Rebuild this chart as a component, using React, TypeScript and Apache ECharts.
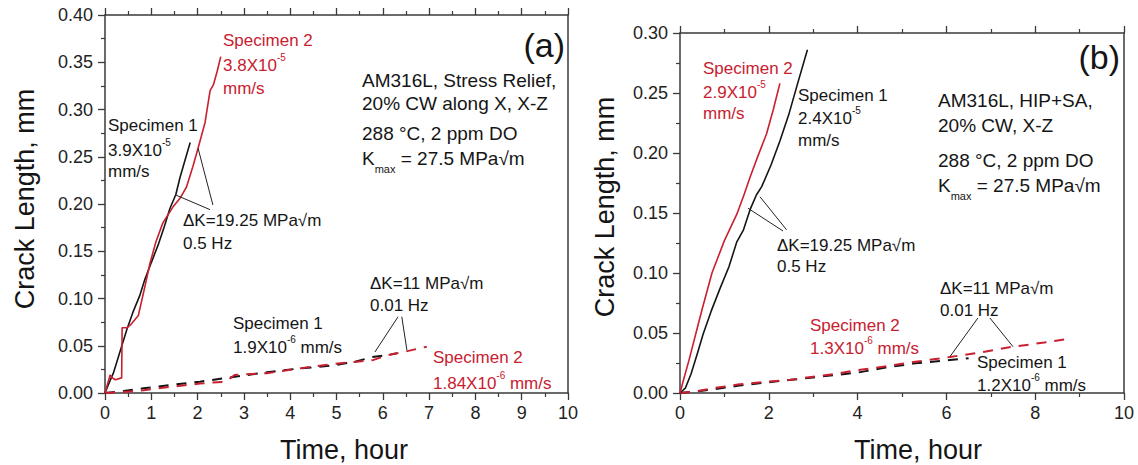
import React, { useEffect, useRef } from "react";
import * as echarts from "echarts";

const FONT = "'Liberation Sans', Arial, Helvetica, sans-serif";
const RED = "#c8202f";
const BLACK = "#151515";
const AXIS = "#3a3a3a";

// ---------- Panel (a): AM316L, Stress Relief ----------
const aXMax = 10;
const aXInterval = 1;
const aYMax = 0.4;
const aYInterval = 0.05;

// 0.5 Hz, Specimen 1 (solid black)
const aS1FastT = [0, 0.1, 0.18, 0.3, 0.47, 0.6, 0.75, 0.86, 1.0, 1.15, 1.28, 1.4, 1.53, 1.62, 1.72, 1.84];
const aS1FastY = [0, 0.012, 0.021, 0.04, 0.067, 0.085, 0.103, 0.12, 0.138, 0.157, 0.176, 0.195, 0.21, 0.228, 0.245, 0.265];
// 0.5 Hz, Specimen 2 (solid red)
const aS2FastT = [0, 0.11, 0.16, 0.22, 0.36, 0.37, 0.47, 0.55, 0.72, 0.85, 0.97, 1.1, 1.25, 1.47, 1.62, 1.76, 1.9, 2.01, 2.16, 2.27, 2.34, 2.42, 2.5];
const aS2FastY = [0, 0.019, 0.016, 0.014, 0.016, 0.069, 0.069, 0.072, 0.082, 0.11, 0.137, 0.16, 0.18, 0.197, 0.206, 0.218, 0.24, 0.259, 0.286, 0.32, 0.326, 0.34, 0.356];
// 0.01 Hz, Specimen 1 (dashed black)
const aS1SlowT = [0, 0.4, 0.83, 1.5, 2.05, 2.77, 3.5, 4.2, 4.9, 5.4, 5.76, 6.1, 6.3];
const aS1SlowY = [0, 0.002, 0.005, 0.009, 0.012, 0.017, 0.022, 0.026, 0.029, 0.033, 0.038, 0.04, 0.042];
// 0.01 Hz, Specimen 2 (dashed red)
const aS2SlowT = [0, 0.4, 0.83, 1.5, 2.05, 2.6, 2.8, 3.5, 4.2, 4.97, 5.43, 5.8, 6.1, 6.5, 6.95];
const aS2SlowY = [0, 0.001, 0.003, 0.007, 0.01, 0.012, 0.019, 0.021, 0.026, 0.031, 0.033, 0.035, 0.04, 0.044, 0.049];
// annotation arrows [fromT, fromY, toT, toY]
const aArrows = [
  [2.27, 0.194, 1.53, 0.2095],
  [2.33, 0.199, 2.01, 0.259],
  [6.33, 0.0807, 5.83, 0.0434],
  [6.41, 0.0807, 6.52, 0.0455],
];

// ---------- Panel (b): AM316L, HIP+SA ----------
const bXMax = 10;
const bXInterval = 2;
const bYMax = 0.3;
const bYInterval = 0.05;

const bS1FastT = [0, 0.12, 0.25, 0.4, 0.52, 0.7, 0.9, 1.1, 1.28, 1.43, 1.5, 1.58, 1.72, 1.84, 2.05, 2.25, 2.45, 2.65, 2.87];
const bS1FastY = [0, 0.004, 0.016, 0.034, 0.049, 0.068, 0.087, 0.105, 0.126, 0.136, 0.144, 0.153, 0.165, 0.172, 0.19, 0.21, 0.232, 0.258, 0.286];
const bS2FastT = [0, 0.08, 0.2, 0.36, 0.5, 0.72, 1.0, 1.28, 1.45, 1.58, 1.75, 1.95, 2.1, 2.25];
const bS2FastY = [0, 0.011, 0.027, 0.05, 0.07, 0.1, 0.127, 0.149, 0.166, 0.18, 0.197, 0.216, 0.236, 0.258];
const bS1SlowT = [0, 0.3, 0.75, 1.3, 2.0, 2.5, 3.0, 3.5, 4.0, 4.6, 5.3, 6.08, 6.5];
const bS1SlowY = [0, 0.001, 0.003, 0.006, 0.009, 0.011, 0.013, 0.015, 0.017, 0.021, 0.0247, 0.0275, 0.029];
const bS2SlowT = [0, 0.3, 0.75, 1.3, 1.95, 2.5, 3.0, 3.5, 3.98, 4.6, 5.3, 6.08, 6.8, 7.5, 8.2, 8.82];
const bS2SlowY = [0, 0.001, 0.004, 0.007, 0.0094, 0.011, 0.0136, 0.016, 0.019, 0.022, 0.026, 0.03, 0.034, 0.0386, 0.042, 0.0456];
const bArrows = [
  [2.4, 0.136, 1.8, 0.1636],
  [2.32, 0.135, 1.53, 0.154],
  [6.71, 0.0625, 6.08, 0.0303],
  [6.98, 0.0625, 7.5, 0.0386],
];

const axisTitleX = "Time, hour";
const axisTitleY = "Crack Length, mm";

const zip = (t: number[], y: number[]) => t.map((v, i) => [v, y[i]]);

const RICH = {
  s: { fontSize: 10, fontFamily: FONT, verticalAlign: "top" },
  b: { fontSize: 11, fontFamily: FONT, verticalAlign: "bottom" },
};

function txt(x: number, y: number, text: string, o: any = {}) {
  return {
    type: "text",
    x,
    y,
    silent: true,
    rotation: o.rotation || 0,
    style: {
      text,
      fill: o.color || BLACK,
      fontSize: o.size || 17,
      fontFamily: FONT,
      align: o.align || "left",
      verticalAlign: "middle",
      lineHeight: o.lh,
      rich: RICH,
    },
  };
}

function xAxes(gridIndex: number, max: number, interval: number) {
  const common = {
    type: "value",
    gridIndex,
    min: 0,
    max,
    interval,
    splitLine: { show: false },
    axisLine: { show: true, onZero: false, lineStyle: { color: AXIS, width: 1.5 } },
    axisTick: { show: true, inside: false, length: 7, lineStyle: { color: AXIS, width: 1.3 } },
    minorTick: { show: true, splitNumber: 2, length: 4, lineStyle: { color: AXIS, width: 1.2 } },
  };
  return [
    {
      ...common,
      position: "bottom",
      axisLabel: { fontSize: 18, color: "#222", fontFamily: FONT, margin: 11 },
    },
    { ...common, position: "top", axisLabel: { show: false } },
  ];
}

function yAxes(gridIndex: number, max: number, interval: number) {
  return [
    {
      type: "value",
      gridIndex,
      min: 0,
      max,
      interval,
      position: "left",
      splitLine: { show: false },
      axisLine: { show: true, onZero: false, lineStyle: { color: AXIS, width: 1.5 } },
      axisTick: { show: true, inside: false, length: 7, lineStyle: { color: AXIS, width: 1.3 } },
      minorTick: { show: true, splitNumber: 2, length: 4, lineStyle: { color: AXIS, width: 1.2 } },
      axisLabel: {
        fontSize: 18,
        color: "#222",
        fontFamily: FONT,
        margin: 12,
        formatter: (v: number) => v.toFixed(2),
      },
    },
    {
      type: "value",
      gridIndex,
      min: 0,
      max,
      interval,
      position: "right",
      splitLine: { show: false },
      axisLine: { show: true, onZero: false, lineStyle: { color: AXIS, width: 1.5 } },
      axisTick: { show: false },
      axisLabel: { show: false },
    },
  ];
}

function line(name: string, t: number[], y: number[], color: string, dashed: boolean, axisIdx: number, arrows?: number[][]) {
  const s: any = {
    name,
    type: "line",
    xAxisIndex: axisIdx,
    yAxisIndex: axisIdx,
    data: zip(t, y),
    showSymbol: false,
    symbol: "none",
    silent: true,
    z: dashed ? 3 : 4,
    lineStyle: { color, width: dashed ? 2 : 1.6, type: dashed ? [10, 8] : "solid" },
  };
  if (arrows) {
    s.markLine = {
      silent: true,
      symbol: ["none", "arrow"],
      symbolSize: [0, 8],
      label: { show: false },
      lineStyle: { color: "#222", width: 1, type: "solid" },
      emphasis: { disabled: true },
      data: arrows.map((a) => [{ coord: [a[0], a[1]] }, { coord: [a[2], a[3]] }]),
    };
  }
  return s;
}

export default function App() {
  const ref = useRef<HTMLDivElement>(null);
  useEffect(() => {
    const chart = echarts.init(ref.current!, null, { renderer: "svg" });
    const graphic: any[] = [
      // axis titles
      txt(25, 199, axisTitleY, { size: 27, align: "center", rotation: Math.PI / 2 }),
      txt(344, 450, axisTitleX, { size: 27, align: "center" }),
      txt(605, 207, axisTitleY, { size: 27, align: "center", rotation: Math.PI / 2 }),
      txt(918, 450, axisTitleX, { size: 27, align: "center" }),
      // panel (a)
      txt(565, 45, "(a)", { size: 34, align: "right" }),
      txt(362, 80, "AM316L, Stress Relief,", { size: 19 }),
      txt(362, 103, "20% CW along X, X-Z", { size: 19 }),
      txt(362, 133, "288 °C, 2 ppm DO", { size: 19 }),
      txt(362, 158, "K{b|max} = 27.5 MPa√m", { size: 19, lh: 32 }),
      txt(223, 40, "Specimen 2", { color: RED }),
      txt(223, 65, "3.8X10{s|-5}", { color: RED, lh: 26 }),
      txt(223, 88, "mm/s", { color: RED }),
      txt(108, 125, "Specimen 1"),
      txt(108, 150, "3.9X10{s|-5}", { lh: 26 }),
      txt(108, 171, "mm/s"),
      txt(183, 220, "ΔK=19.25 MPa√m"),
      txt(183, 243, "0.5 Hz"),
      txt(233, 323, "Specimen 1"),
      txt(233, 347, "1.9X10{s|-6} mm/s", { lh: 26 }),
      txt(370, 283, "ΔK=11 MPa√m"),
      txt(370, 305, "0.01 Hz"),
      txt(433, 357, "Specimen 2", { color: RED }),
      txt(433, 383, "1.84X10{s|-6} mm/s", { color: RED, lh: 26 }),
      // panel (b)
      txt(1120, 57, "(b)", { size: 34, align: "right" }),
      txt(938, 100, "AM316L, HIP+SA,", { size: 19 }),
      txt(938, 125, "20% CW, X-Z", { size: 19 }),
      txt(938, 160, "288 °C, 2 ppm DO", { size: 19 }),
      txt(938, 185, "K{b|max} = 27.5 MPa√m", { size: 19, lh: 32 }),
      txt(703, 68, "Specimen 2", { color: RED }),
      txt(703, 92, "2.9X10{s|-5}", { color: RED, lh: 26 }),
      txt(703, 113, "mm/s", { color: RED }),
      txt(798, 95, "Specimen 1"),
      txt(798, 118, "2.4X10{s|-5}", { lh: 26 }),
      txt(798, 140, "mm/s"),
      txt(777, 245, "ΔK=19.25 MPa√m"),
      txt(777, 266, "0.5 Hz"),
      txt(810, 325, "Specimen 2", { color: RED }),
      txt(810, 348, "1.3X10{s|-6} mm/s", { color: RED, lh: 26 }),
      txt(940, 288, "ΔK=11 MPa√m"),
      txt(940, 310, "0.01 Hz"),
      txt(977, 362, "Specimen 1"),
      txt(977, 385, "1.2X10{s|-6} mm/s", { lh: 26 }),
    ];
    chart.setOption({
      animation: false,
      backgroundColor: "#ffffff",
      textStyle: { fontFamily: FONT },
      grid: [
        { left: 105, top: 15, width: 463, height: 378, containLabel: false },
        { left: 680, top: 33, width: 444, height: 360, containLabel: false },
      ],
      xAxis: [...xAxes(0, aXMax, aXInterval), ...xAxes(1, bXMax, bXInterval)],
      yAxis: [...yAxes(0, aYMax, aYInterval), ...yAxes(1, bYMax, bYInterval)],
      series: [
        line("(a) Specimen 1, 0.5 Hz", aS1FastT, aS1FastY, BLACK, false, 0, aArrows),
        line("(a) Specimen 2, 0.5 Hz", aS2FastT, aS2FastY, RED, false, 0),
        line("(a) Specimen 1, 0.01 Hz", aS1SlowT, aS1SlowY, BLACK, true, 0),
        line("(a) Specimen 2, 0.01 Hz", aS2SlowT, aS2SlowY, RED, true, 0),
        line("(b) Specimen 1, 0.5 Hz", bS1FastT, bS1FastY, BLACK, false, 2, bArrows),
        line("(b) Specimen 2, 0.5 Hz", bS2FastT, bS2FastY, RED, false, 2),
        line("(b) Specimen 1, 0.01 Hz", bS1SlowT, bS1SlowY, BLACK, true, 2),
        line("(b) Specimen 2, 0.01 Hz", bS2SlowT, bS2SlowY, RED, true, 2),
      ],
      graphic,
    });
    return () => chart.dispose();
  }, []);
  return (
    <div
      ref={ref}
      style={{ position: "fixed", left: 0, top: 0, width: 1138, height: 465, background: "#fff" }}
    />
  );
}
